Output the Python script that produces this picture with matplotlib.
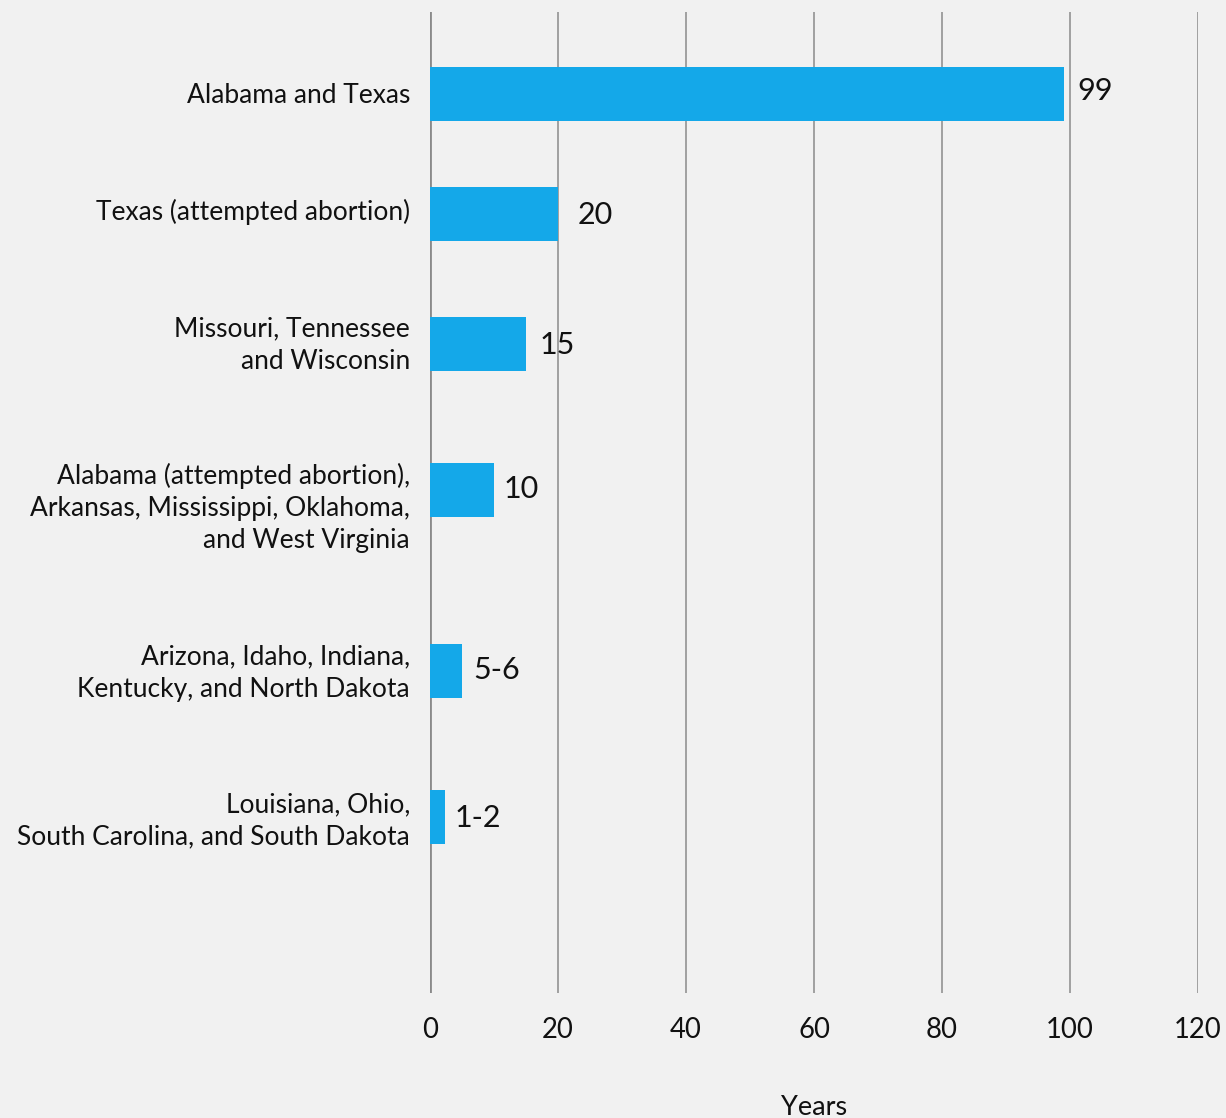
import matplotlib.pyplot as plt

plt.rcParams['font.family'] = ['Lato', 'DejaVu Sans']

categories = [
    "Alabama and Texas",
    "Texas (attempted abortion)",
    "Missouri, Tennessee\nand Wisconsin",
    "Alabama (attempted abortion),\nArkansas, Mississippi, Oklahoma,\nand West Virginia",
    "Arizona, Idaho, Indiana,\nKentucky, and North Dakota",
    "Louisiana, Ohio,\nSouth Carolina, and South Dakota",
]
years = [99, 20, 15, 10, 5, 2.3]
value_labels = ["99", "20", "15", "10", "5-6", "1-2"]
x_ticks = [0, 20, 40, 60, 80, 100, 120]

# layout: bar centres along the axis (axis runs 0 at top to 981 at bottom)
bar_pos = [82, 202, 332, 478, 659, 805]
label_pos = [81, 197, 327, 490, 655, 803]
# value label offsets in pixels (right, up)
label_ofs = [(14, 3), (20, -1), (14, -1), (10, 1), (11, 1), (10, -1)]

bg = "#f1f1f1"
fig = plt.figure(figsize=(12.26, 11.18), dpi=100, facecolor=bg)
ax = fig.add_axes([430 / 1226, 1 - 993 / 1118, (1198 - 430) / 1226, (993 - 12) / 1118])
ax.set_facecolor(bg)

ax.barh(bar_pos, years, height=54, color="#14a8e9", zorder=3)
for p, v, t, o in zip(bar_pos, years, value_labels, label_ofs):
    ax.annotate(t, (v, p), xytext=o, textcoords="offset pixels",
                va="center", ha="left", fontsize=22, color="#111111", zorder=4)

ax.set_xlim(0, 120)
ax.set_ylim(981, 0)
ax.set_xticks(x_ticks)
ax.set_yticks(label_pos)
ax.set_yticklabels(categories, fontsize=19, linespacing=1.36, color="#111111")
ax.tick_params(axis="x", length=0, pad=17, labelsize=19.8, labelcolor="#111111")
ax.tick_params(axis="y", length=0, pad=14.4)
ax.grid(axis="x", color="#9a9a9a", linewidth=1.3, zorder=0)
ax.axvline(0, color="#8a8a8a", linewidth=2, zorder=2)
for s in ax.spines.values():
    s.set_visible(False)

ax.set_xlabel("Years", fontsize=19.5, labelpad=38, color="#111111")

fig.savefig("out.png", dpi=100, facecolor=bg)
